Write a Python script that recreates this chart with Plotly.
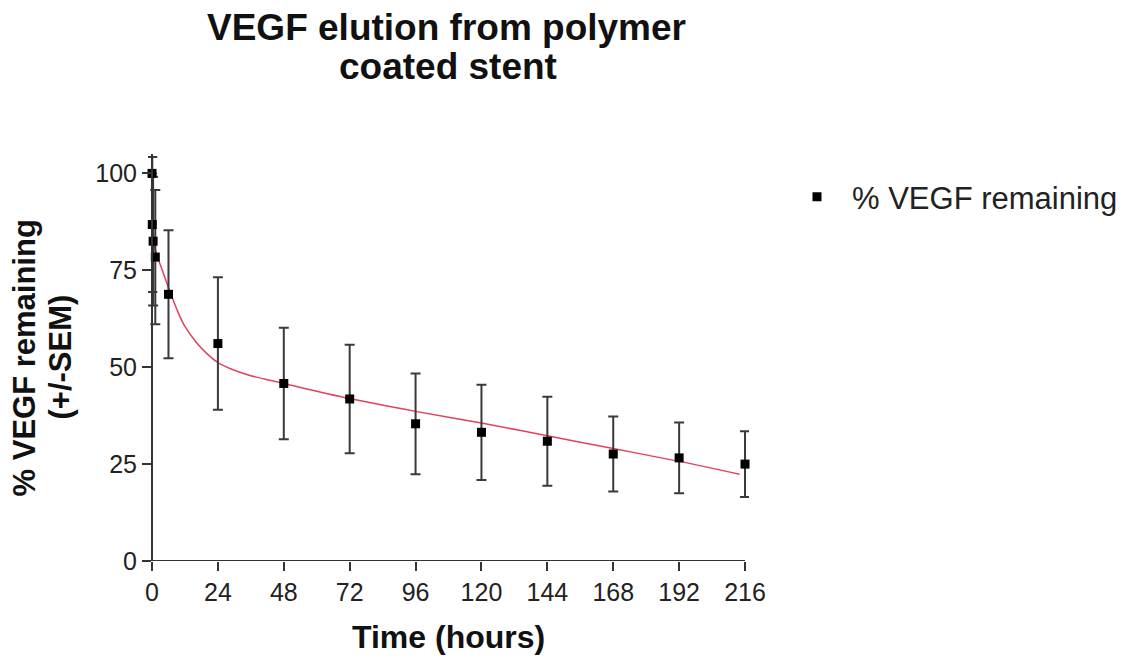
import plotly.graph_objects as go

# Measured release data: time (h), mean % remaining, SEM
time_h = [0, 0.1, 0.4, 1.2, 6, 24, 48, 72, 96, 120, 144, 168, 192, 216]
pct_remaining = [100, 86.8, 82.5, 78.4, 68.8, 56.1, 45.8, 41.8, 35.4, 33.2, 30.9, 27.6, 26.6, 25.0]
sem = [0, 17.4, 16.6, 17.3, 16.5, 17.1, 14.4, 14.0, 13.0, 12.3, 11.5, 9.7, 9.1, 8.5]

# Two-phase decay fit, sampled
fit_t = [0.5, 2, 4, 6, 9, 12, 16, 20, 24, 30, 36, 48, 72, 96, 120, 144, 168, 192, 214]
fit_y = [82.3, 78.5, 74.5, 70.5, 65.0, 60.5, 56.5, 53.5, 51.2, 49.2, 47.8, 45.8, 41.9, 38.6,
         35.6, 32.3, 29.0, 25.7, 22.4]

x_ticks = [0, 24, 48, 72, 96, 120, 144, 168, 192, 216]
y_ticks = [0, 25, 50, 75, 100]

FONT = "Liberation Sans, Arial, sans-serif"
AXIS_COLOR = "#333333"
TEXT_COLOR = "#111111"

# small padding around the data range so error-bar caps at the ends are not cut
X_PAD_LO, X_PAD_HI = -1.46, 217.45
Y_AXIS_POS = 4 / 601  # paper position of x = 0

fig = go.Figure()

fig.add_trace(go.Scatter(
    x=fit_t, y=fit_y, mode="lines", line=dict(color="#e0435e", width=1.5, shape="spline"),
    showlegend=False, hoverinfo="skip",
))

fig.add_trace(go.Scatter(
    x=time_h, y=pct_remaining, mode="markers", name="% VEGF remaining",
    marker=dict(symbol="square", size=9, color="black"),
    error_y=dict(type="data", array=sem, visible=True, color="#3a3a3a", thickness=2, width=5),
    cliponaxis=False,
))

tick_common = dict(
    ticks="outside", tickcolor=AXIS_COLOR, ticklen=9, tickwidth=2,
    showgrid=False, zeroline=False,
    tickfont=dict(family=FONT, size=25, color="#222222"),
)

fig.update_layout(
    width=1144, height=659,
    margin=dict(l=148, r=395, t=154, b=98),
    paper_bgcolor="white", plot_bgcolor="white",
    xaxis=dict(range=[X_PAD_LO, X_PAD_HI], tickvals=x_ticks, showline=False, **tick_common),
    yaxis=dict(range=[0, 105], tickvals=y_ticks, showline=True, linecolor=AXIS_COLOR,
               linewidth=2, anchor="free", position=Y_AXIS_POS, **tick_common),
    legend=dict(
        x=1.0549, y=0.894, xanchor="left", yanchor="middle", itemwidth=60,
        font=dict(family=FONT, size=31, color="#222222"), bgcolor="rgba(0,0,0,0)",
    ),
    shapes=[
        # x-axis baseline from 0 to 216 h
        dict(type="line", xref="x", yref="y", x0=0, x1=216, y0=0, y1=0,
             line=dict(color=AXIS_COLOR, width=2), layer="below"),
    ],
    annotations=[
        dict(text="<b>VEGF elution from polymer</b>", xref="paper", yref="paper",
             x=0.497, y=1.312, xanchor="center", yanchor="middle", showarrow=False,
             font=dict(family=FONT, size=37, color=TEXT_COLOR)),
        dict(text="<b>coated stent</b>", xref="paper", yref="paper",
             x=0.499, y=1.2138, xanchor="center", yanchor="middle", showarrow=False,
             font=dict(family=FONT, size=37, color=TEXT_COLOR)),
        dict(text="<b>Time (hours)</b>", xref="paper", yref="paper", x=0.5008, y=-0.1867,
             xanchor="center", yanchor="middle", showarrow=False,
             font=dict(family=FONT, size=32, color=TEXT_COLOR)),
        dict(text="<b>% VEGF remaining</b>", xref="paper", yref="paper",
             x=-0.2047, y=0.5, xanchor="center", yanchor="middle", textangle=-90,
             showarrow=False, font=dict(family=FONT, size=31, color=TEXT_COLOR)),
        dict(text="<b>(+/-SEM)</b>", xref="paper", yref="paper",
             x=-0.1464, y=0.5, xanchor="center", yanchor="middle", textangle=-90,
             showarrow=False, font=dict(family=FONT, size=31, color=TEXT_COLOR)),
    ],
)

fig.write_html("out.html")
